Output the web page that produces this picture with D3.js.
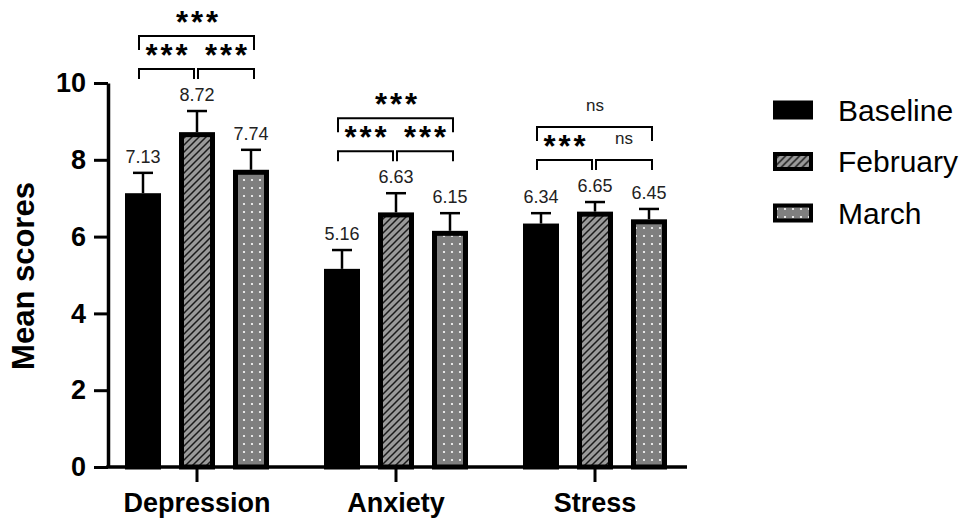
<!DOCTYPE html>
<html>
<head>
<meta charset="utf-8">
<script src="https://cdn.jsdelivr.net/npm/d3@7"></script>
<style>
  body { margin: 0; background: #fff; }
  text { font-family: "Liberation Sans", Arial, sans-serif; }
</style>
</head>
<body>
<div id="chart"></div>
<script>
const categories = ["Depression", "Anxiety", "Stress"]
const series = ["Baseline", "February", "March"]

const baselineMeans = [7.13, 5.16, 6.34]
const februaryMeans = [8.72, 6.63, 6.65]
const marchMeans = [7.74, 6.15, 6.45]

const baselineSem = [0.53, 0.49, 0.27]
const februarySem = [0.55, 0.50, 0.25]
const marchSem = [0.52, 0.46, 0.27]

// significance: baseline vs feb, feb vs march, baseline vs march
const sigBaseFeb = ["***", "***", "***"]
const sigFebMar = ["***", "***", "ns"]
const sigBaseMar = ["***", "***", "ns"]

const yTicks = [0, 2, 4, 6, 8, 10]

const width = 965, height = 518

const svg = d3.select("#chart").append("svg").attr("width", width).attr("height", height)

const x = d3.scaleBand().domain(categories).range([97.5, 694.5])
const xs = d3.scaleBand().domain(series).range([-81, 81])
const y = d3.scaleLinear().domain([0, 10]).range([467, 83])

const defs = svg.append("defs")
const hatch = defs.append("pattern").attr("id", "hatch").attr("patternUnits", "userSpaceOnUse")
  .attr("width", 7).attr("height", 7)
hatch.append("rect").attr("width", 7).attr("height", 7).attr("fill", "#9a9a9a")
hatch.append("path").attr("d", "M-1,8 L8,-1 M-1,1 L1,-1 M6,8 L8,6")
  .attr("stroke", "#1a1a1a").attr("stroke-width", 1.5)

const dots = defs.append("pattern").attr("id", "dots").attr("patternUnits", "userSpaceOnUse")
  .attr("width", 8).attr("height", 8)
dots.append("rect").attr("width", 8).attr("height", 8).attr("fill", "#7f7f7f")
dots.append("circle").attr("cx", 4).attr("cy", 4).attr("r", 1.1).attr("fill", "#fff")

const fills = { Baseline: "#000", February: "url(#hatch)", March: "url(#dots)" }

const rows = categories.flatMap((c, i) => [
  { cat: c, s: "Baseline", mean: baselineMeans[i], sem: baselineSem[i] },
  { cat: c, s: "February", mean: februaryMeans[i], sem: februarySem[i] },
  { cat: c, s: "March", mean: marchMeans[i], sem: marchSem[i] }
])
const cx = d => x(d.cat) + x.bandwidth() / 2 + xs(d.s) + xs.bandwidth() / 2

// bars
svg.selectAll(".bar").data(rows).enter().append("rect").attr("class", "bar")
  .attr("x", d => cx(d) - 15.5).attr("width", 31)
  .attr("y", d => y(d.mean) + 2.5).attr("height", d => y(0) - y(d.mean) - 2.5)
  .attr("fill", d => fills[d.s]).attr("stroke", "#000").attr("stroke-width", 5)

// error bars
svg.selectAll(".err").data(rows).enter().append("line")
  .attr("x1", cx).attr("x2", cx).attr("y1", d => y(d.mean)).attr("y2", d => y(d.mean + d.sem))
  .attr("stroke", "#000").attr("stroke-width", 2.5)
svg.selectAll(".cap").data(rows).enter().append("line")
  .attr("x1", d => cx(d) - 10).attr("x2", d => cx(d) + 10)
  .attr("y1", d => y(d.mean + d.sem)).attr("y2", d => y(d.mean + d.sem))
  .attr("stroke", "#000").attr("stroke-width", 2.5)

// value labels
svg.selectAll(".val").data(rows).enter().append("text")
  .attr("x", cx).attr("y", d => y(d.mean + d.sem) - 10)
  .attr("text-anchor", "middle").attr("font-size", "18px").attr("fill", "#222")
  .text(d => d.mean.toFixed(2))

// significance brackets
function sigText(g, tx, ty, label) {
  if (label === "ns") {
    g.append("text").attr("x", tx).attr("y", ty - 16).attr("text-anchor", "middle")
      .attr("font-size", "17px").attr("fill", "#222").text(label)
  } else {
    g.append("text").attr("x", tx + 1.5).attr("y", ty - 3).attr("text-anchor", "middle")
      .attr("font-size", "31px").attr("font-weight", "bold").attr("letter-spacing", "3px")
      .attr("fill", "#000").text(label)
  }
}

categories.forEach((c, i) => {
  const g = svg.append("g")
  const grp = rows.filter(d => d.cat === c)
  const xb = cx(grp[0]), xf = cx(grp[1]), xm = cx(grp[2])
  const topY = y(d3.max(grp, d => d.mean + d.sem))
  const low = topY - 42
  const up = low - 33
  const bracket = (x1, x2, yy, leg) => g.append("path")
    .attr("d", `M${x1},${yy + leg} L${x1},${yy} L${x2},${yy} L${x2},${yy + leg}`)
    .attr("fill", "none").attr("stroke", "#000").attr("stroke-width", 2)
  bracket(xb - 4, xf - 3, low, 10)
  bracket(xf + 1, xm + 3, low, 10)
  bracket(xb - 4, xm + 3, up, 14)
  sigText(g, (xb - 4 + xf - 3) / 2, low, sigBaseFeb[i])
  sigText(g, (xf + 1 + xm + 3) / 2, low, sigFebMar[i])
  sigText(g, (xb + xm) / 2, up, sigBaseMar[i])
})

// y axis
const yAxis = svg.append("g").attr("transform", "translate(108,0)")
  .call(d3.axisLeft(y).tickValues(yTicks).tickSize(14).tickPadding(8).tickSizeOuter(0))
yAxis.select(".domain").attr("stroke-width", 3.5)
yAxis.selectAll(".tick line").attr("stroke-width", 3)
yAxis.selectAll(".tick text").attr("font-size", "27px").attr("font-weight", "bold")
  .attr("font-family", "Liberation Sans, Arial, sans-serif").attr("fill", "#000")

// x axis
const xAxis = svg.append("g").attr("transform", `translate(0,${y(0)})`)
  .call(d3.axisBottom(x).tickSize(15).tickPadding(11).tickSizeOuter(0))
xAxis.select(".domain").remove()
xAxis.append("line").attr("x1", 106.25).attr("x2", 687).attr("stroke", "#000").attr("stroke-width", 3.5)
xAxis.selectAll(".tick line").attr("stroke-width", 3)
xAxis.selectAll(".tick text").attr("font-size", "27px").attr("font-weight", "bold")
  .attr("font-family", "Liberation Sans, Arial, sans-serif").attr("fill", "#000")
  .attr("dy", "0.71em")

// y label
svg.append("text").attr("transform", "translate(34,276) rotate(-90)")
  .attr("text-anchor", "middle").attr("font-size", "31px").attr("font-weight", "bold")
  .text("Mean scores")

// legend
const legend = svg.selectAll(".leg").data(series).enter().append("g")
  .attr("transform", (d, i) => `translate(773,${110 + i * 51.5})`)
legend.append("rect").attr("x", 2).attr("y", -7.5).attr("width", 36).attr("height", 15)
  .attr("fill", d => fills[d]).attr("stroke", "#000").attr("stroke-width", 4)
legend.append("text").attr("x", 65).attr("y", 0).attr("dy", "0.36em")
  .attr("font-size", "30px").text(d => d)
</script>
</body>
</html>
